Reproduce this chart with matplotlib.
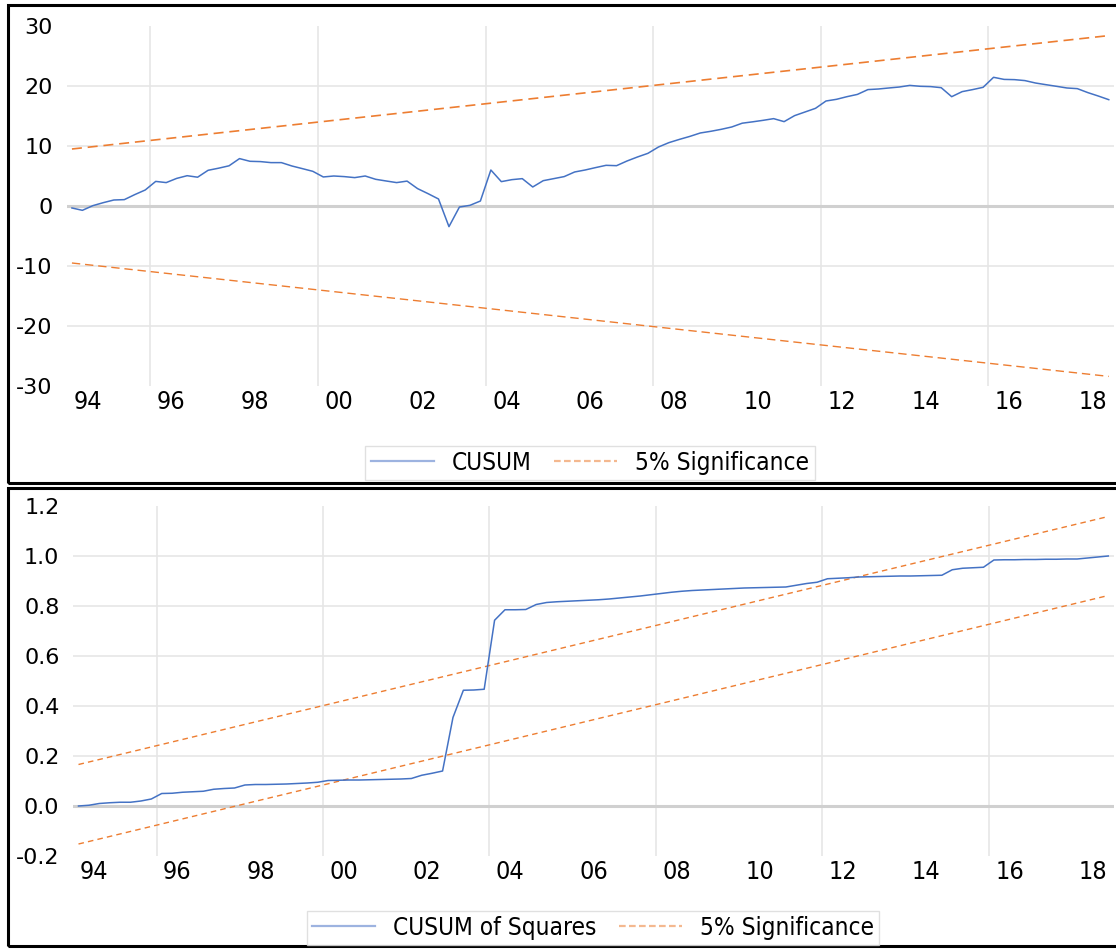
import numpy as np
import pandas as pd
import matplotlib
matplotlib.use("Agg")
import matplotlib.pyplot as plt
from matplotlib.lines import Line2D
from matplotlib.patches import Rectangle

# DATA - quarterly recursive residual tests, 1994Q1 - 2018Q4
quarters = pd.period_range("1994Q1", "2018Q4", freq="Q")

cusum = [-0.33, -0.72, 0.06, 0.56, 1.0, 1.06, 1.9, 2.67, 4.1, 3.9,
         4.6, 5.05, 4.8, 5.95, 6.3, 6.7, 7.9, 7.45, 7.4, 7.23,
         7.23, 6.67, 6.23, 5.78, 4.84, 5.0, 4.9, 4.73, 5.0, 4.45,
         4.17, 3.9, 4.15, 2.9, 2.06, 1.17, -3.44, -0.17, 0.11, 0.83,
         6.0, 4.06, 4.39, 4.56, 3.17, 4.22, 4.56, 4.9, 5.67, 6.0,
         6.4, 6.78, 6.72, 7.5, 8.17, 8.78, 9.83, 10.56, 11.1, 11.6,
         12.17, 12.45, 12.78, 13.17, 13.8, 14.03, 14.28, 14.56, 14.06, 15.06,
         15.67, 16.28, 17.5, 17.78, 18.22, 18.6, 19.4, 19.5, 19.67, 19.83,
         20.1, 19.95, 19.9, 19.72, 18.22, 19.06, 19.4, 19.78, 21.45, 21.1,
         21.06, 20.9, 20.5, 20.22, 19.95, 19.67, 19.56, 18.9, 18.33, 17.72]

cusum_sq = [0.000, 0.003, 0.010, 0.013, 0.015, 0.015, 0.020, 0.028, 0.050, 0.051,
            0.055, 0.057, 0.059, 0.067, 0.070, 0.072, 0.084, 0.086, 0.086, 0.087,
            0.088, 0.090, 0.092, 0.095, 0.102, 0.103, 0.104, 0.104, 0.105, 0.106,
            0.107, 0.108, 0.110, 0.123, 0.131, 0.140, 0.354, 0.463, 0.464, 0.467,
            0.743, 0.785, 0.785, 0.786, 0.806, 0.814, 0.817, 0.819, 0.821, 0.823,
            0.825, 0.828, 0.832, 0.836, 0.840, 0.845, 0.850, 0.855, 0.859, 0.862,
            0.864, 0.866, 0.868, 0.870, 0.872, 0.873, 0.874, 0.875, 0.876, 0.883,
            0.890, 0.895, 0.909, 0.911, 0.913, 0.916, 0.917, 0.918, 0.919, 0.920,
            0.920, 0.921, 0.922, 0.923, 0.945, 0.951, 0.953, 0.955, 0.984, 0.985,
            0.985, 0.986, 0.986, 0.987, 0.987, 0.988, 0.988, 0.992, 0.996, 1.000]

# 5% significance bounds (straight lines, first and last observation)
cusum_upper = [9.5, 28.4]
cusum_lower = [-9.5, -28.4]
sq_upper = [0.166, 1.158]
sq_lower = [-0.152, 0.842]

label_years = list(range(1994, 2019, 2))
year_labels = [str(y)[2:] for y in label_years]
grid_years = list(range(1996, 2017, 4))

cusum_ticks = [30, 20, 10, 0, -10, -20, -30]
cusum_ticklabels = ["30", "20", "10", "0", "-10", "-20", "-30"]
sq_ticks = [1.2, 1.0, 0.8, 0.6, 0.4, 0.2, 0.0, -0.2]
sq_ticklabels = ["1.2", "1.0", "0.8", "0.6", "0.4", "0.2", "0.0", "-0.2"]

BLUE = "#4472C4"
ORANGE = "#ED7D31"

t = np.asarray(quarters.year + (quarters.quarter - 0.5) / 4.0, dtype=float)
ends = [t[0], t[-1]]

W, H = 1116, 949
fig = plt.figure(figsize=(W / 100, H / 100), dpi=100)


def fx(px):
    return px / W


def fy(py):
    return 1 - py / H


# panel frames
for top, bot in [(5, 483), (488, 946)]:
    fig.add_artist(Rectangle((fx(8), fy(bot)), fx(1125 - 8), (bot - top) / H,
                             transform=fig.transFigure, fill=False,
                             ec="black", lw=2.2))


def style(ax, ylim, ticks, labels, inner):
    ax.set_xlim(1994, 2019)
    ax.set_ylim(*ylim)
    for s in ax.spines.values():
        s.set_visible(False)
    for yr in grid_years:
        ax.axvline(yr, color="#e6e6e6", lw=1.2, zorder=0)
    for v in inner:
        ax.axhline(v, color="#e6e6e6", lw=1.2, zorder=0)
    ax.axhline(0, color="#d0d0d0", lw=2.2, zorder=0.5)
    ax.set_yticks(ticks)
    ax.set_yticklabels(labels, fontsize=16, family="DejaVu Sans")
    ax.set_xticks([y + 0.5 for y in label_years])
    ax.set_xticklabels(year_labels, fontsize=18, family="DejaVu Sans",
                       stretch="condensed")
    ax.tick_params(axis="y", length=0, pad=10, colors="black")
    ax.tick_params(axis="x", length=0, pad=3, colors="black")


def legend(ax, name, center):
    handles = [Line2D([], [], color="#9db3e0", lw=1.6),
               Line2D([], [], color="#f4b88f", lw=1.6, ls=(0, (3, 1.5)))]
    leg = fig.legend(handles, [name, "5% Significance"], ncol=2,
                     loc="center", bbox_to_anchor=center,
                     bbox_transform=fig.transFigure,
                     frameon=True, fancybox=False, edgecolor="#d9d9d9",
                     handlelength=2.6, handletextpad=0.75, columnspacing=0.9,
                     borderpad=0.22,
                     prop={"family": "DejaVu Sans", "stretch": "condensed",
                           "size": 17.5})
    leg.get_frame().set_linewidth(1.0)


# top: CUSUM
ax1 = fig.add_axes([fx(66.7), fy(386), fx(1114 - 66.7), 360 / H])
style(ax1, (-30, 30), cusum_ticks, cusum_ticklabels, [20, 10, -10, -20])
ax1.plot(t, cusum, color=BLUE, lw=1.1, zorder=3)
ax1.plot(ends, cusum_upper, color=ORANGE, lw=1.2, ls=(0, (6, 3.5)), zorder=2)
ax1.plot(ends, cusum_lower, color=ORANGE, lw=1.0, ls=(0, (6, 3.5)), zorder=2)
legend(ax1, "CUSUM", (fx(590), fy(463)))

# bottom: CUSUM of squares
ax2 = fig.add_axes([fx(73.3), fy(856), fx(1113.5 - 73.3), 350 / H])
style(ax2, (-0.2, 1.2), sq_ticks, sq_ticklabels, [1.0, 0.8, 0.6, 0.4, 0.2])
ax2.plot(t, cusum_sq, color=BLUE, lw=1.1, zorder=3)
ax2.plot(ends, sq_upper, color=ORANGE, lw=1.0, ls=(0, (4, 3)), zorder=2)
ax2.plot(ends, sq_lower, color=ORANGE, lw=1.0, ls=(0, (4, 3)), zorder=2)
legend(ax2, "CUSUM of Squares", (fx(593), fy(928)))

fig.savefig("out.png", dpi=100)
